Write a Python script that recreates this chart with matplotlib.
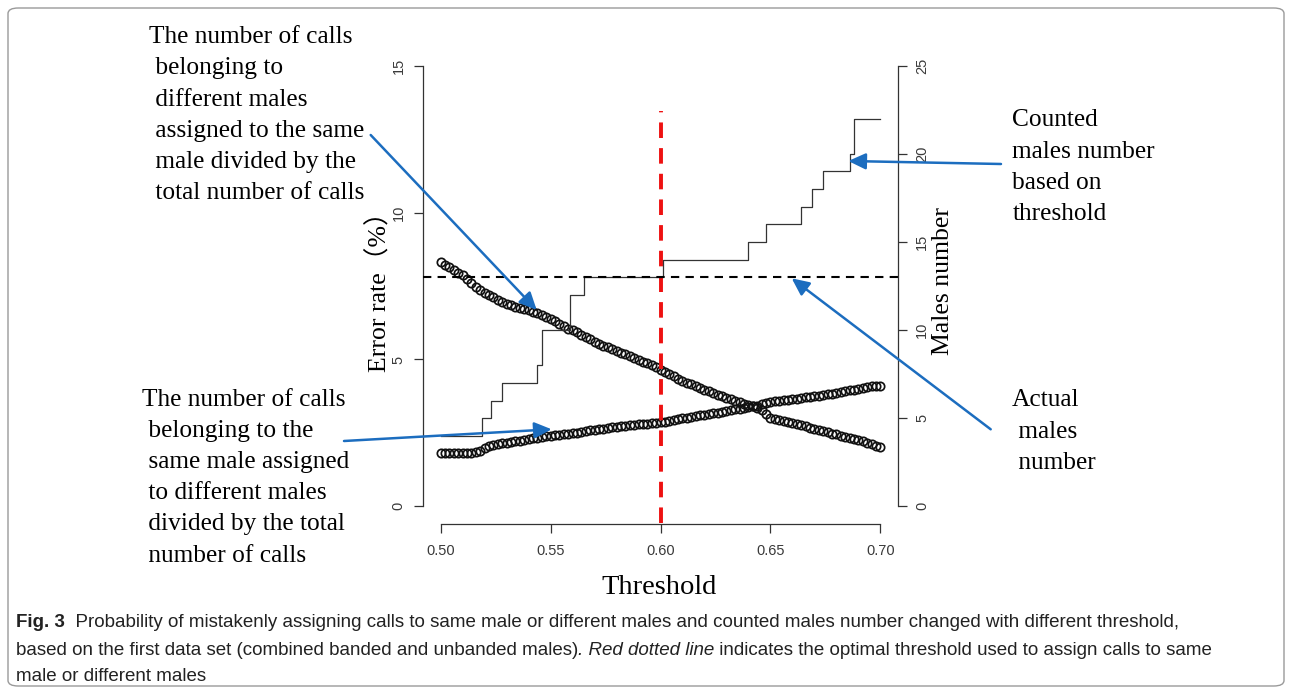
import numpy as np
import matplotlib
matplotlib.use("Agg")
import matplotlib.pyplot as plt
from matplotlib.patches import FancyArrowPatch, FancyBboxPatch

# ---------------------------------------------------------------------------
# Data
# ---------------------------------------------------------------------------

# thresholds tested (0.002 grid)
threshold = np.round(np.arange(0.500, 0.7001, 0.002), 3)

# calls of different males assigned to the same male (% of all calls)
err_diff_to_same = [
    8.31, 8.22, 8.13, 8.04, 7.95, 7.86, 7.74, 7.61, 7.48, 7.36,
    7.26, 7.18, 7.11, 7.03, 6.96, 6.89, 6.85, 6.80, 6.76, 6.72,
    6.68, 6.63, 6.58, 6.52, 6.45, 6.38, 6.30, 6.22, 6.13, 6.05,
    5.99, 5.92, 5.84, 5.76, 5.69, 5.61, 5.54, 5.47, 5.41, 5.35,
    5.29, 5.23, 5.17, 5.11, 5.05, 4.99, 4.93, 4.87, 4.80, 4.73,
    4.65, 4.57, 4.50, 4.42, 4.34, 4.27, 4.21, 4.15, 4.09, 4.03,
    3.97, 3.91, 3.85, 3.80, 3.75, 3.70, 3.65, 3.60, 3.55, 3.50,
    3.45, 3.41, 3.36, 3.27, 3.13, 3.02, 2.98, 2.94, 2.90, 2.86,
    2.83, 2.79, 2.76, 2.72, 2.68, 2.64, 2.60, 2.56, 2.52, 2.48,
    2.45, 2.41, 2.37, 2.33, 2.29, 2.25, 2.22, 2.17, 2.12, 2.07,
    2.03,
]

# calls of the same male assigned to different males (% of all calls)
err_same_to_diff = [
    1.82, 1.82, 1.82, 1.82, 1.82, 1.82, 1.82, 1.82, 1.85, 1.90,
    1.97, 2.04, 2.08, 2.11, 2.14, 2.17, 2.19, 2.21, 2.24, 2.26,
    2.28, 2.31, 2.33, 2.36, 2.38, 2.41, 2.42, 2.44, 2.45, 2.47,
    2.49, 2.51, 2.54, 2.56, 2.59, 2.61, 2.63, 2.65, 2.68, 2.70,
    2.71, 2.73, 2.75, 2.77, 2.78, 2.79, 2.80, 2.81, 2.83, 2.84,
    2.86, 2.88, 2.91, 2.94, 2.97, 3.00, 3.02, 3.05, 3.07, 3.10,
    3.12, 3.15, 3.17, 3.19, 3.22, 3.24, 3.27, 3.30, 3.32, 3.35,
    3.37, 3.40, 3.43, 3.47, 3.51, 3.54, 3.57, 3.59, 3.61, 3.63,
    3.65, 3.67, 3.69, 3.71, 3.72, 3.74, 3.76, 3.78, 3.81, 3.84,
    3.87, 3.89, 3.92, 3.95, 3.97, 4.00, 4.04, 4.06, 4.08, 4.09,
    4.10,
]

# counted males number: thresholds where the count changes
males_thr = [0.500, 0.519, 0.523, 0.528, 0.544, 0.546, 0.559, 0.565, 0.601,
             0.640, 0.648, 0.664, 0.669, 0.674, 0.686, 0.688, 0.700]
males_count = [4, 5, 6, 7, 8, 10, 12, 13, 14, 15, 16, 17, 18, 19, 20, 22, 22]

actual_males = 13
optimal_thr = 0.60
optimal_span = (-0.55, 13.45)   # extent of the red line on the error axis

x_ticks = [0.50, 0.55, 0.60, 0.65, 0.70]
err_ticks = [0, 5, 10, 15]
males_ticks = [0, 5, 10, 15, 20, 25]

text_diff_to_same = ["The number of calls", " belonging to", " different males",
                     " assigned to the same", " male divided by the",
                     " total number of calls"]
text_same_to_diff = ["The number of calls", " belonging to the",
                     " same male assigned", " to different males",
                     " divided by the total", " number of calls"]
text_counted = ["Counted", "males number", "based on", "threshold"]
text_actual = ["Actual", " males", " number"]

# ---------------------------------------------------------------------------
# Figure
# ---------------------------------------------------------------------------

W, H = 1292, 691
SERIF = ["Liberation Serif", "Noto Sans CJK SC", "DejaVu Serif"]
SANS = ["Liberation Sans", "DejaVu Sans"]
BLUE = "#1c6dbf"
AXC = "#333333"

fig = plt.figure(figsize=(W / 100, H / 100), dpi=100)


def fx(x):
    return x / W


def fy(y):
    return 1 - y / H


ax = fig.add_axes([fx(423), fy(524), 475 / W, 476 / H])
ax.set_xlim(0.492, 0.708)
ax.set_ylim(-0.6, 15.6)
ax2 = ax.twinx()
ax2.set_ylim(-1, 26)

# error rate curves
ax.plot(threshold, err_diff_to_same, ls="none", marker="o", ms=6.0,
        mfc="none", mec="#111111", mew=1.25, zorder=3)
ax.plot(threshold, err_same_to_diff, ls="none", marker="o", ms=6.0,
        mfc="none", mec="#111111", mew=1.25, zorder=3)
ax.plot([optimal_thr, optimal_thr], optimal_span, color="#ee1111", lw=2.8,
        ls=(0, (4, 2.6)), zorder=4, clip_on=False)

# males number
ax2.plot(males_thr, males_count, drawstyle="steps-post", color="#333333", lw=0.9)
ax2.axhline(actual_males, color="black", lw=1.5, ls=(0, (4, 3)))

# R-style axes
for a in (ax, ax2):
    a.spines["top"].set_visible(False)
    for s in a.spines.values():
        s.set_color(AXC)
        s.set_linewidth(0.9)
ax.spines["right"].set_visible(False)
ax2.spines["left"].set_visible(False)
ax2.spines["bottom"].set_visible(False)
ax.spines["left"].set_bounds(0, 15)
ax.spines["bottom"].set_bounds(0.50, 0.70)
ax2.spines["right"].set_bounds(0, 25)

ax.set_xticks(x_ticks)
ax.set_xticklabels([f"{v:.2f}" for v in x_ticks])
ax.set_yticks(err_ticks)
ax.set_yticklabels([str(v) for v in err_ticks], rotation=90, va="center")
ax2.set_yticks(males_ticks)
ax2.set_yticklabels([str(v) for v in males_ticks], rotation=90, va="center")

ax.tick_params(axis="x", length=6.5, width=0.9, color=AXC, pad=8,
               labelsize=10.5, labelcolor="#3a3a3a")
ax.tick_params(axis="y", length=6.5, width=0.9, color=AXC, pad=6,
               labelsize=10.5, labelcolor="#3a3a3a")
ax2.tick_params(axis="y", length=6.5, width=0.9, color=AXC, pad=6,
                labelsize=10.5, labelcolor="#3a3a3a")
for lab in ax.get_xticklabels() + ax.get_yticklabels() + ax2.get_yticklabels():
    lab.set_family(SANS)

ax.text(-0.093, 0.5, "Error rate\uff08%\uff09", transform=ax.transAxes,
        rotation=90, ha="center", va="center", fontsize=18.5, family=SERIF)
ax.text(1.095, 0.51, "Males number", transform=ax.transAxes,
        rotation=90, ha="center", va="center", fontsize=18.5, family=SERIF)
ax.text(0.498, -0.134, "Threshold", transform=ax.transAxes,
        ha="center", va="center", fontsize=20.5, family=SERIF)

# annotation blocks
def text_block(lines, x, y0, step=31.1):
    for i, line in enumerate(lines):
        fig.text(fx(x), fy(y0 + i * step), line, ha="left", va="baseline",
                 fontsize=18.3, family=SERIF)


text_block(text_diff_to_same, 149, 43.3)
text_block(text_same_to_diff, 141.5, 406)
text_block(text_counted, 1012.5, 126.5)
text_block(text_actual, 1011.5, 406.5)

arrows = [((370.7, 135), (536.7, 310)),
          ((344, 441), (551.7, 429.3)),
          ((1001, 164), (848.3, 161)),
          ((990.7, 429.3), (791.7, 278.3))]
for (x0, y0), (x1, y1) in arrows:
    fig.add_artist(FancyArrowPatch((fx(x0), fy(y0)), (fx(x1), fy(y1)),
                                   transform=fig.transFigure,
                                   arrowstyle="-|>,head_length=0.75,head_width=0.35",
                                   mutation_scale=14, lw=1.8, color=BLUE,
                                   shrinkA=0, shrinkB=0, zorder=6))

# caption
CAP = ["Liberation Sans", "DejaVu Sans"]
cap_size = 13.5
t = fig.text(fx(16), fy(627), "Fig. 3", fontsize=cap_size, family=CAP,
             weight="bold", va="baseline", color="#222222")
t1 = plt.annotate("  Probability of mistakenly assigning calls to same male or different "
                  "males and counted males number changed with different threshold,",
                  xy=(1, 0), xycoords=t, va="bottom", fontsize=cap_size,
                  family=CAP, color="#222222")
t2 = fig.text(fx(16), fy(655), "based on the first data set (combined banded and "
              "unbanded males)", fontsize=cap_size, family=CAP, va="baseline",
              color="#222222")
t3 = plt.annotate(". Red dotted line", xy=(1, 0), xycoords=t2, va="bottom",
                  fontsize=cap_size, family=CAP, style="italic", color="#222222")
plt.annotate(" indicates the optimal threshold used to assign calls to same",
             xy=(1, 0), xycoords=t3, va="bottom", fontsize=cap_size,
             family=CAP, color="#222222")
fig.text(fx(16), fy(681), "male or different males", fontsize=cap_size,
         family=CAP, va="baseline", color="#222222")

# rounded frame around the figure panel
fig.add_artist(FancyBboxPatch((fx(8), fy(686)), fx(1276), 678 / H,
                              boxstyle="round,pad=0,rounding_size=0.008",
                              transform=fig.transFigure, fill=False,
                              ec="#9a9a9a", lw=1.0))

fig.savefig("out.png", dpi=100)
